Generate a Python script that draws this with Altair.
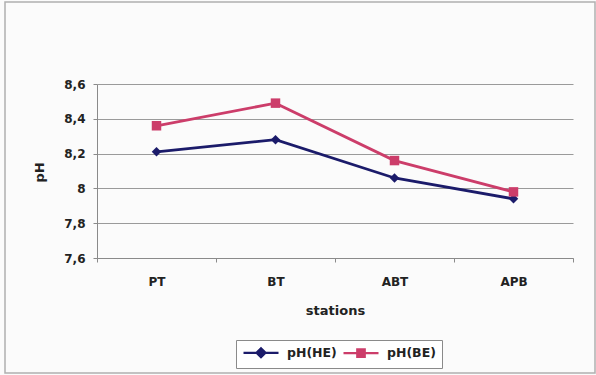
import altair as alt
import pandas as pd

# pH measured at each station, two series
stations = ["PT", "BT", "ABT", "APB"]
series_names = ["pH(HE)", "pH(BE)"]
ph_he = [8.21, 8.28, 8.06, 7.94]
ph_be = [8.36, 8.49, 8.16, 7.98]
y_ticks = [7.6, 7.8, 8.0, 8.2, 8.4, 8.6]

series_colors = ["#1b1b6a", "#cc3d6a"]
point_shapes = ["diamond", "square"]
# legend glyphs: a short line with the series marker on it
# (path units are 5 px at symbolSize 100)
legend_shapes = [
    "M-1,0L6,0M2.5,-0.9L3.4,0L2.5,0.9L1.6,0Z",
    "M-1,0L6,0M1.75,-0.75L3.25,-0.75L3.25,0.75L1.75,0.75Z",
]

rows = []
for name, vals in zip(series_names, [ph_he, ph_be]):
    for st, v in zip(stations, vals):
        rows.append({"station": st, "series": name, "key": name, "ph": v})
df = pd.DataFrame(rows)

FONT = "DejaVu Sans"
W, H = 476, 174

x_enc = alt.X(
    "station:N",
    sort=stations,
    scale=alt.Scale(type="band", paddingInner=0, paddingOuter=0),
    axis=alt.Axis(
        title="stations",
        labelAngle=0,
        tickBand="extent",
        tickSize=4,
        labelPadding=14,
        titlePadding=17,
        domainColor="#8a8a8a",
        tickColor="#8a8a8a",
        grid=False,
    ),
)
y_enc = alt.Y(
    "ph:Q",
    scale=alt.Scale(domain=[7.6, 8.6], nice=False, zero=False),
    axis=alt.Axis(
        title="pH",
        values=y_ticks,
        labelExpr="replace(format(datum.value, '.1~f'), '.', ',')",
        tickSize=4,
        labelPadding=8,
        titleX=-58,
        titleY=88,
        titleAlign="center",
        titleBaseline="middle",
        domainColor="#8a8a8a",
        tickColor="#8a8a8a",
        gridColor="#9a9a9a",
    ),
)
color_scale = alt.Scale(domain=series_names, range=series_colors)

lines = (
    alt.Chart(df)
    .mark_line(strokeWidth=2.8)
    .encode(
        x=x_enc,
        y=y_enc,
        color=alt.Color("series:N", scale=color_scale, legend=None),
        detail="series:N",
    )
)

points = (
    alt.Chart(df)
    .mark_point(filled=True, opacity=1, size=90)
    .encode(
        x=x_enc,
        y=y_enc,
        color=alt.Color("series:N", scale=color_scale, legend=None),
        shape=alt.Shape(
            "series:N",
            scale=alt.Scale(domain=series_names, range=point_shapes),
            legend=None,
        ),
    )
)

legend_def = alt.Legend(
    title=None,
    orient="none",
    direction="horizontal",
    legendX=139,
    legendY=256,
    symbolSize=100,
    symbolStrokeWidth=2.2,
    symbolOpacity=1,
    labelFont=FONT,
    labelFontSize=12.5,
    labelFontWeight="bold",
    labelColor="#222222",
    labelOffset=32,
    columnPadding=2,
    padding=6,
    strokeColor="#8a8a8a",
    fillColor="#ffffff",
)

# invisible layer that only carries the legend
legend_layer = (
    alt.Chart(df)
    .mark_point(opacity=0, size=100)
    .encode(
        x=x_enc,
        y=y_enc,
        fill=alt.Fill("key:N", scale=color_scale, legend=legend_def),
        stroke=alt.Stroke("key:N", scale=color_scale, legend=legend_def),
        shape=alt.Shape(
            "key:N",
            scale=alt.Scale(domain=series_names, range=legend_shapes),
            legend=legend_def,
        ),
    )
)

frame = (
    alt.Chart(pd.DataFrame({"k": [0]}))
    .mark_rect(fill=None, stroke="#b0b0b0", strokeWidth=1.5)
    .encode(
        x=alt.value(-92), x2=alt.value(498), y=alt.value(-82), y2=alt.value(289)
    )
)

chart = (
    alt.layer(frame, lines, points, legend_layer)
    .resolve_scale(shape="independent", fill="independent", stroke="independent")
    .properties(
        width=W,
        height=H,
        padding={"left": 97, "top": 84, "right": 23, "bottom": 117},
        autosize=alt.AutoSizeParams(type="none"),
        background="#fbfbfb",
    )
    .configure_view(stroke=None)
    .configure_axis(
        labelFont=FONT,
        labelFontSize=12,
        labelFontWeight="bold",
        labelColor="#222222",
        titleFont=FONT,
        titleFontSize=13,
        titleFontWeight="bold",
        titleColor="#222222",
    )
)

chart.save("out.html", embed_options={"renderer": "svg", "actions": False})
